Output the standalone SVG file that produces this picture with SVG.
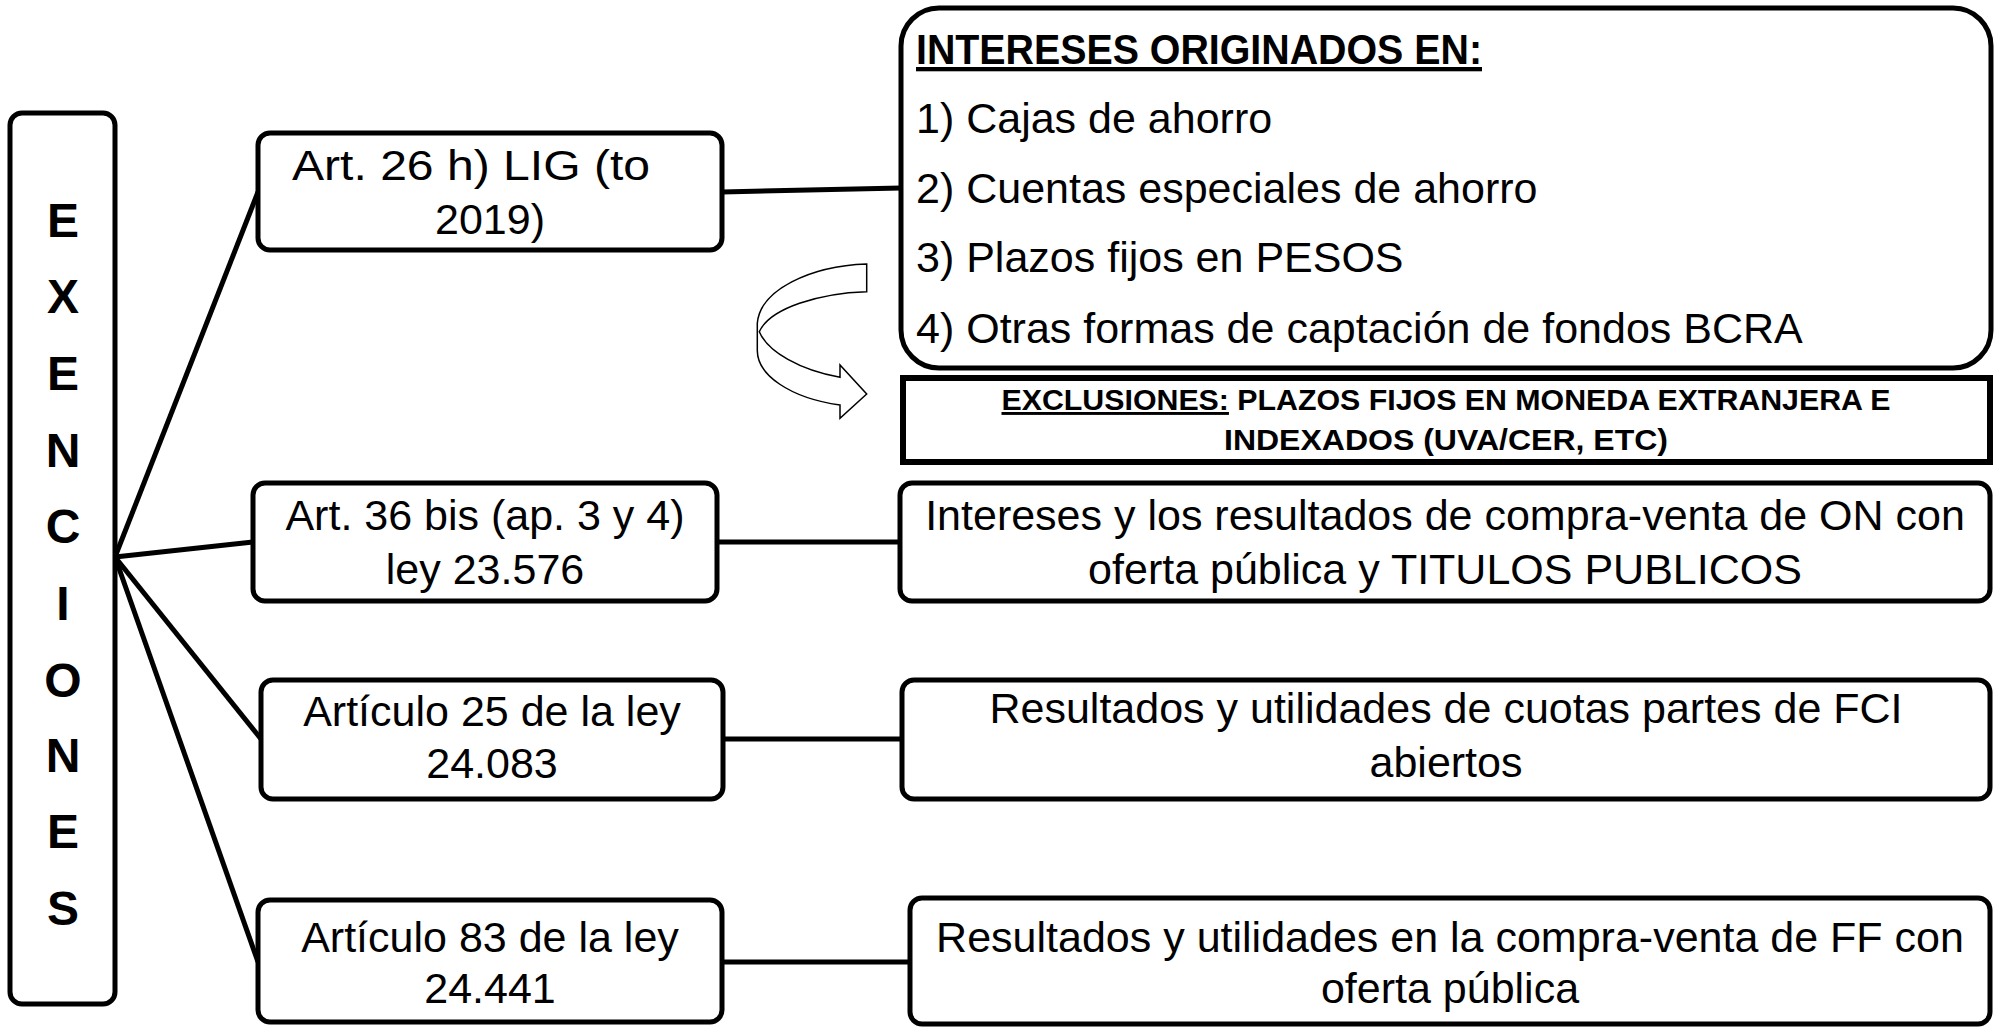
<svg xmlns="http://www.w3.org/2000/svg" width="2004" height="1029" viewBox="0 0 2004 1029">
<style>
.box{fill:#fff;stroke:#000;stroke-width:5}
.t{font-family:"Liberation Sans",Arial,sans-serif;font-size:43px;fill:#000}
.c{text-anchor:middle}
.b{font-weight:bold}
.v{font-family:"Liberation Sans",Arial,sans-serif;font-size:48px;font-weight:bold;text-anchor:middle}
.ex{font-family:"Liberation Sans",Arial,sans-serif;font-size:29px;font-weight:bold;text-anchor:middle}
.con{stroke:#000;stroke-width:5;fill:none}
</style>
<rect width="2004" height="1029" fill="#fff"/>
<g id="connectors">
<line class="con" x1="115" y1="557" x2="258" y2="192"/>
<line class="con" x1="115" y1="557" x2="253" y2="542"/>
<line class="con" x1="115" y1="557" x2="261" y2="739"/>
<line class="con" x1="115" y1="557" x2="258" y2="962"/>
<line class="con" x1="722" y1="192" x2="901" y2="188"/>
<line class="con" x1="717" y1="542" x2="900" y2="542"/>
<line class="con" x1="723" y1="739" x2="902" y2="739"/>
<line class="con" x1="722" y1="962" x2="910" y2="962"/>
</g>
<g id="exenciones">
<rect class="box" x="10" y="113" width="105" height="891" rx="12"/>
<text class="v" x="63" y="237">E</text>
<text class="v" x="63" y="313">X</text>
<text class="v" x="63" y="390">E</text>
<text class="v" x="63" y="467">N</text>
<text class="v" x="63" y="543">C</text>
<text class="v" x="63" y="620">I</text>
<text class="v" x="63" y="697">O</text>
<text class="v" x="63" y="772">N</text>
<text class="v" x="63" y="848">E</text>
<text class="v" x="63" y="925">S</text>
</g>
<g id="art26">
<rect class="box" x="258" y="133" width="464" height="117" rx="12"/>
<text class="t c" x="471" y="180" textLength="358" lengthAdjust="spacingAndGlyphs">Art. 26 h) LIG (to</text>
<text class="t c" x="490" y="234">2019)</text>
</g>
<g id="art36">
<rect class="box" x="253" y="483" width="464" height="118" rx="12"/>
<text class="t c" x="485" y="530">Art. 36 bis (ap. 3 y 4)</text>
<text class="t c" x="485" y="584">ley 23.576</text>
</g>
<g id="art25">
<rect class="box" x="261" y="680" width="462" height="119" rx="12"/>
<text class="t c" x="492" y="726">Artículo 25 de la ley</text>
<text class="t c" x="492" y="778">24.083</text>
</g>
<g id="art83">
<rect class="box" x="258" y="900" width="464" height="122" rx="12"/>
<text class="t c" x="490" y="952">Artículo 83 de la ley</text>
<text class="t c" x="490" y="1003">24.441</text>
</g>
<g id="intereses">
<rect class="box" x="901" y="8" width="1090" height="360" rx="38"/>
<text class="t b" x="916" y="64" text-decoration="underline" textLength="566" lengthAdjust="spacingAndGlyphs">INTERESES ORIGINADOS EN:</text>
<text class="t" x="916" y="133">1) Cajas de ahorro</text>
<text class="t" x="916" y="203">2) Cuentas especiales de ahorro</text>
<text class="t" x="916" y="272">3) Plazos fijos en PESOS</text>
<text class="t" x="916" y="343">4) Otras formas de captación de fondos BCRA</text>
</g>
<g id="arrow">
<path d="M866.7,264 L866.7,291.7 C820,293 770,308 759.3,331.7 C768,352 800,370 840,377.3 L840,365 L866.7,394 L840,418.3 L840,405 C790,398 757,375 757.3,350 L757.3,323.3 C760,290 810,266 866.7,264 Z" fill="#fff" stroke="#000" stroke-width="1.5" stroke-linejoin="miter"/>
</g>
<g id="exclusiones">
<rect x="903" y="378" width="1087" height="84" fill="#fff" stroke="#000" stroke-width="6"/>
<text class="ex" x="1446" y="410" textLength="889" lengthAdjust="spacingAndGlyphs"><tspan text-decoration="underline">EXCLUSIONES:</tspan> PLAZOS FIJOS EN MONEDA EXTRANJERA E</text>
<text class="ex" x="1446" y="450" textLength="444" lengthAdjust="spacingAndGlyphs">INDEXADOS (UVA/CER, ETC)</text>
</g>
<g id="on">
<rect class="box" x="900" y="483" width="1090" height="118" rx="12"/>
<text class="t c" x="1445" y="530">Intereses y los resultados de compra-venta de ON con</text>
<text class="t c" x="1445" y="584">oferta pública y TITULOS PUBLICOS</text>
</g>
<g id="fci">
<rect class="box" x="902" y="680" width="1088" height="119" rx="12"/>
<text class="t c" x="1446" y="723">Resultados y utilidades de cuotas partes de FCI</text>
<text class="t c" x="1446" y="777">abiertos</text>
</g>
<g id="ff">
<rect class="box" x="910" y="898" width="1080" height="126" rx="12"/>
<text class="t c" x="1450" y="952">Resultados y utilidades en la compra-venta de FF con</text>
<text class="t c" x="1450" y="1003">oferta pública</text>
</g>
</svg>
